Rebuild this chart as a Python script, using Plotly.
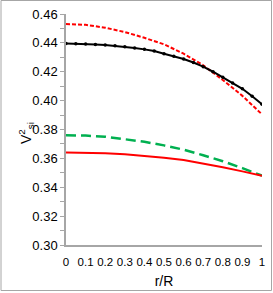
import plotly.graph_objects as go

r_fine = [0, 0.05, 0.1, 0.15, 0.2, 0.25, 0.3, 0.35, 0.4, 0.45, 0.5,
          0.55, 0.6, 0.65, 0.7, 0.75, 0.8, 0.85, 0.9, 0.95, 1.0]
black_vals = [0.4395, 0.4394, 0.4392, 0.4389, 0.4385, 0.4380, 0.4373, 0.4365,
              0.4355, 0.4343, 0.4325, 0.4308, 0.4288, 0.4264, 0.4235, 0.4200,
              0.4162, 0.4122, 0.4082, 0.4030, 0.3975]

r = [0, 0.1, 0.2, 0.3, 0.4, 0.5, 0.6, 0.7, 0.8, 0.9, 1.0]
red_dash_vals = [0.4530, 0.4525, 0.4505, 0.4475, 0.4435, 0.4390, 0.4325,
                 0.4245, 0.4143, 0.4033, 0.3905]
green_vals = [0.3760, 0.3758, 0.3750, 0.3735, 0.3715, 0.3690, 0.3660,
              0.3622, 0.3580, 0.3532, 0.3480]
red_vals = [0.3640, 0.3639, 0.3635, 0.3628, 0.3618, 0.3605, 0.3588,
            0.3565, 0.3538, 0.3510, 0.3480]

x_ticks = [0, 0.1, 0.2, 0.3, 0.4, 0.5, 0.6, 0.7, 0.8, 0.9, 1]
x_labels = ["0", "0.1", "0.2", "0.3", "0.4", "0.5", "0.6", "0.7", "0.8", "0.9", "1"]
y_ticks = [0.30, 0.32, 0.34, 0.36, 0.38, 0.40, 0.42, 0.44, 0.46]
y_labels = ["0.30", "0.32", "0.34", "0.36", "0.38", "0.40", "0.42", "0.44", "0.46"]

fig = go.Figure()
fig.add_trace(go.Scatter(x=r, y=green_vals, mode="lines",
                         line=dict(color="#00b050", width=2.5, dash="10px,5px")))
fig.add_trace(go.Scatter(x=r, y=red_vals, mode="lines",
                         line=dict(color="#ff0000", width=2)))
fig.add_trace(go.Scatter(x=r, y=red_dash_vals, mode="lines",
                         line=dict(color="#ff0000", width=2, dash="4px,2px")))
fig.add_trace(go.Scatter(x=r_fine, y=black_vals, mode="lines+markers",
                         line=dict(color="black", width=2),
                         marker=dict(color="black", size=3.5)))

W, H = 273, 293
L, R, T, B = 66, 11, 14, 48
pw, ph = W - L - R, H - T - B

fig.update_layout(
    width=W, height=H,
    margin=dict(l=L, r=R, t=T, b=B, pad=0, autoexpand=False),
    paper_bgcolor="white", plot_bgcolor="white",
    showlegend=False,
    font=dict(family="Liberation Sans, Arial, sans-serif", size=13, color="black"),
    xaxis=dict(range=[0, 1], tickmode="array", tickvals=x_ticks, ticktext=x_labels,
               showgrid=False, zeroline=False, showline=True, linecolor="#a6a6a6",
               linewidth=1.5, ticks="", tickangle=0, tickfont=dict(size=11.5),
               ticklabelstandoff=5, automargin=False,
               title=dict(text="r/R", font=dict(size=14), standoff=10)),
    yaxis=dict(range=[0.30, 0.46], tickmode="array", tickvals=y_ticks, ticktext=y_labels,
               showgrid=False, zeroline=False, showline=True, linecolor="#a6a6a6",
               linewidth=1.5, ticks="outside", ticklen=4, tickcolor="#a6a6a6",
               tickwidth=1, tickfont=dict(size=13), automargin=False,
               minor=dict(dtick=0.01, ticks="outside", ticklen=4, tickcolor="#a6a6a6",
                          showgrid=False)),
)

fig.add_annotation(text="V<sup>2</sup><sub>si</sub>", textangle=-90,
                   xref="paper", yref="paper",
                   x=(14 - L) / pw, y=(H - B - 133) / ph,
                   showarrow=False, font=dict(size=14))

fig.add_shape(type="rect", xref="paper", yref="paper",
              x0=(1 - L) / pw, x1=(271.5 - L) / pw,
              y0=(H - B - 290.5) / ph, y1=1 + (T - 0.5) / ph,
              line=dict(color="#a6a6a6", width=1))

fig.write_html("out.html", config={"displayModeBar": False},
               post_script="document.body.style.margin='0';document.body.style.overflow='hidden';")
